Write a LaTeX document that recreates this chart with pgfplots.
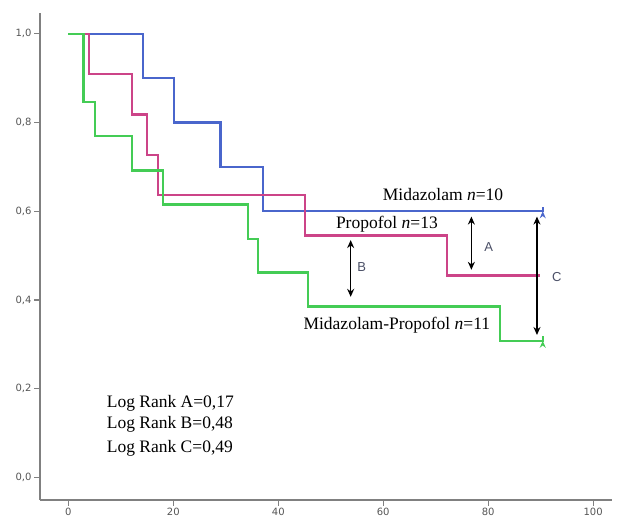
\documentclass[border=0pt]{standalone}
\usepackage{fontspec}
\setmainfont{Liberation Serif}
\newfontfamily\tickfont{DejaVu Sans}
\newfontfamily\sansf{Liberation Sans}
\usepackage{pgfplots}
\pgfplotsset{compat=1.18}
\usetikzlibrary{arrows.meta}
\definecolor{blueC}{HTML}{4A66CC}
\definecolor{pinkC}{HTML}{CC4488}
\definecolor{greenC}{HTML}{44CC55}
\definecolor{axisgray}{HTML}{808080}
\definecolor{labelgray}{HTML}{555555}
\definecolor{letgray}{HTML}{4A4F66}
\begin{document}
\begin{tikzpicture}[x=1bp,y=1bp]
\path[use as bounding box] (0,0) rectangle (617,519);
\begin{axis}[at={(40bp,19bp)}, anchor=south west, scale only axis,
  width=572bp, height=487bp,
  xmin=-5.4, xmax=103.6, ymin=-0.051, ymax=1.047,
  axis x line*=bottom, axis y line*=left,
  axis line style={draw=axisgray, line width=1.8bp},
  xtick={0,20,40,60,80,100}, ytick={0,0.2,0.4,0.6,0.8,1.0},
  tick align=outside, major tick length=6bp,
  tick style={draw=axisgray, line width=1.2bp},
  /pgf/number format/assume math mode=true,
  ticklabel style={font=\tickfont\fontsize{10bp}{11bp}\selectfont, text=labelgray},
  xticklabel style={yshift=1bp},
  yticklabel style={xshift=1bp, /pgf/number format/.cd, fixed, fixed zerofill, precision=1, use comma},
  clip=false]
\addplot[blueC, line width=2.3bp, const plot, -{Stealth[length=7bp,width=6bp]}] coordinates {(0,1)(14.2,0.9)(20.1,0.8)(29,0.7)(37.1,0.6)(90.4,0.6)};
\addplot[pinkC, line width=2.3bp, const plot] coordinates {(0,1)(4,0.909)(12.1,0.818)(15.05,0.727)(17.1,0.636)(45.1,0.545)(72.1,0.455)(89.8,0.455)};
\addplot[greenC, line width=2.3bp, const plot, -{Stealth[length=7bp,width=6bp]}] coordinates {(0,1)(2.9,0.846)(5.1,0.769)(12.1,0.692)(18.1,0.615)(34.2,0.538)(36.1,0.462)(45.7,0.385)(82.2,0.308)(90.4,0.308)};
\draw[{Stealth[length=8bp,width=7bp]}-{Stealth[length=8bp,width=7bp]}, line width=1.4bp] (axis cs:76.8,0.588) -- (axis cs:76.8,0.468);
\draw[{Stealth[length=8bp,width=7bp]}-{Stealth[length=8bp,width=7bp]}, line width=1.4bp] (axis cs:53.8,0.535) -- (axis cs:53.8,0.407);
\draw[{Stealth[length=8bp,width=7bp]}-{Stealth[length=8bp,width=7bp]}, line width=1.4bp] (axis cs:89.3,0.588) -- (axis cs:89.3,0.321);
\node[font=\sansf\fontsize{13bp}{14bp}\selectfont, text=letgray] at (axis cs:80.1,0.520) {A};
\node[font=\sansf\fontsize{13bp}{14bp}\selectfont, text=letgray] at (axis cs:55.9,0.475) {B};
\node[font=\sansf\fontsize{13bp}{14bp}\selectfont, text=letgray] at (axis cs:93.1,0.4525) {C};
\node[font=\fontsize{17.5bp}{20bp}\selectfont] at (axis cs:71.4,0.637) {Midazolam \textit{n}=10};
\node[font=\fontsize{17.5bp}{20bp}\selectfont] at (axis cs:60.7,0.571) {Propofol \textit{n}=13};
\node[font=\fontsize{17.5bp}{20bp}\selectfont] at (axis cs:62.6,0.344) {Midazolam-Propofol \textit{n}=11};
\node[font=\fontsize{17.5bp}{20bp}\selectfont, anchor=west, inner sep=0pt] at (axis cs:7.3,0.166) {Log Rank A=0,17};
\node[font=\fontsize{17.5bp}{20bp}\selectfont, anchor=west, inner sep=0pt] at (axis cs:7.3,0.119) {Log Rank B=0,48};
\node[font=\fontsize{17.5bp}{20bp}\selectfont, anchor=west, inner sep=0pt] at (axis cs:7.3,0.065) {Log Rank C=0,49};
\end{axis}
\end{tikzpicture}
\end{document}
